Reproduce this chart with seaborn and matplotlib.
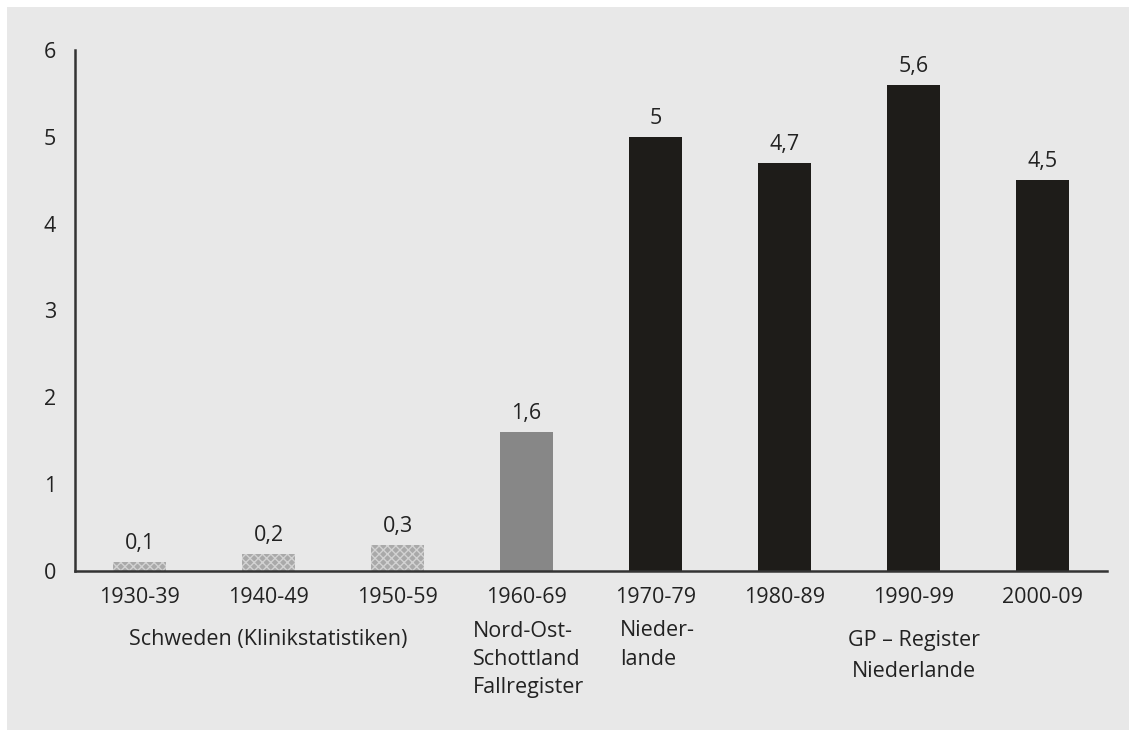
import matplotlib
matplotlib.use("Agg")
import matplotlib.pyplot as plt
import seaborn as sns
import pandas as pd
from matplotlib.patches import Rectangle

periods = ["1930-39", "1940-49", "1950-59", "1960-69", "1970-79", "1980-89", "1990-99", "2000-09"]
values = [0.1, 0.2, 0.3, 1.6, 5.0, 4.7, 5.6, 4.5]
value_labels = ["0,1", "0,2", "0,3", "1,6", "5", "4,7", "5,6", "4,5"]
sources = ["Schweden", "Schweden", "Schweden", "Schottland", "Niederlande", "Niederlande", "Niederlande", "Niederlande"]
y_ticks = [0, 1, 2, 3, 4, 5, 6]

colors = {"Schweden": "#a9a9a9", "Schottland": "#878787", "Niederlande": "#1e1c19"}

sns.set_theme(style="white")
plt.rcParams["font.family"] = ["Open Sans", "DejaVu Sans"]

FS = 15.5
TXT = "#222222"
BG = "#e8e8e8"
fig = plt.figure(figsize=(11.29, 7.30), dpi=100, facecolor=BG)
fig.patches.append(Rectangle((0, 0), 7 / 1129, 1, transform=fig.transFigure,
                             facecolor="white", edgecolor="none", zorder=-5))
fig.patches.append(Rectangle((0, 1 - 7 / 730), 1, 7 / 730, transform=fig.transFigure,
                             facecolor="white", edgecolor="none", zorder=-5))
ax = fig.add_axes([75 / 1129, 1 - 571 / 730, (1107 - 75) / 1129, (571 - 50) / 730])
ax.patch.set_alpha(0)

df = pd.DataFrame({"period": periods, "value": values, "source": sources})
sns.barplot(data=df, x="period", y="value", hue="source", palette=colors,
            dodge=False, width=0.41, legend=False, ax=ax, saturation=1)

for p, src in zip(ax.patches, sources):
    p.set_linewidth(0)
    if src == "Schweden":
        p.set_hatch("xxxx")
        p.set_edgecolor("#d2d2d2")

for i, (v, lab) in enumerate(zip(values, value_labels)):
    ax.annotate(lab, (i, v), xytext=(0, 9.4), textcoords="offset points",
                ha="center", va="baseline", fontsize=FS, color=TXT)

ax.set_xlim(-0.5, 7.5)
ax.set_ylim(0, 6)
ax.set_yticks(y_ticks)
ax.set_yticklabels([str(t) for t in y_ticks], fontsize=FS, color=TXT)
ax.set_xticks(range(len(periods)))
ax.set_xticklabels(periods, fontsize=FS, color=TXT, va="baseline")
ax.tick_params(axis="both", length=0)
ax.tick_params(axis="y", pad=13.5)
ax.tick_params(axis="x", pad=23)
ax.set_xlabel("")
ax.set_ylabel("")
for s in ["top", "right"]:
    ax.spines[s].set_visible(False)
for s in ["left", "bottom"]:
    ax.spines[s].set_color("#333333")
    ax.spines[s].set_linewidth(1.8)

tr = ax.get_xaxis_transform()
H = 521.0


def yb(px):
    return (571 - px) / H


kw = dict(fontsize=FS, color=TXT, transform=tr, va="baseline")
ax.text(1.0, yb(645), "Schweden (Klinikstatistiken)", ha="center", **kw)
for line, px in zip(["Nord-Ost-", "Schottland", "Fallregister"], [637, 665, 693]):
    ax.text(2.585, yb(px), line, ha="left", **kw)
for line, px in zip(["Nieder-", "lande"], [636, 665]):
    ax.text(3.725, yb(px), line, ha="left", **kw)
for line, px in zip(["GP – Register", "Niederlande"], [646, 677]):
    ax.text(6.0, yb(px), line, ha="center", **kw)

fig.savefig("out.png", dpi=100, facecolor=fig.get_facecolor())
